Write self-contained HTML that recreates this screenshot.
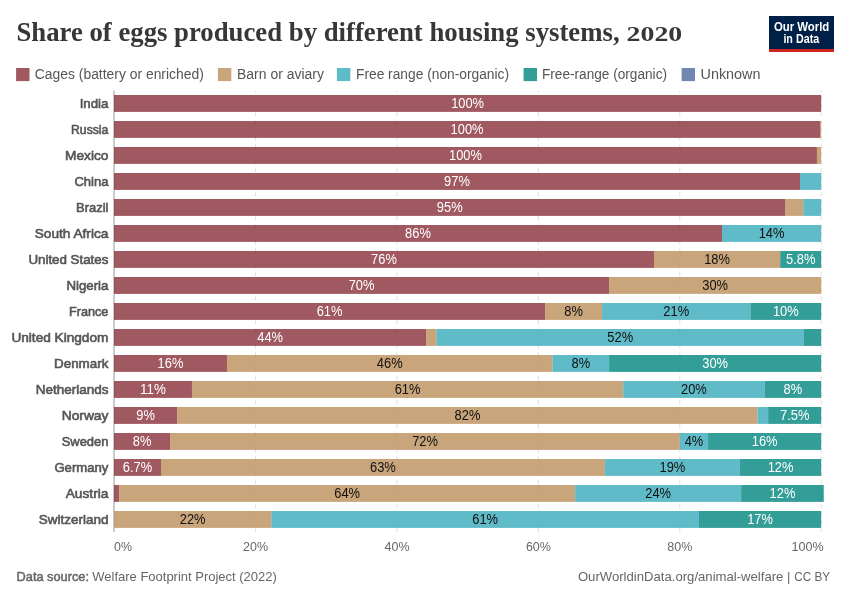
<!DOCTYPE html>
<html><head><meta charset="utf-8"><title>Share of eggs produced by different housing systems, 2020</title>
<style>
html,body{margin:0;padding:0;background:#fff;}
body{width:850px;height:600px;overflow:hidden;font-family:"Liberation Sans",sans-serif;}
svg{display:block;will-change:transform;font-family:"Liberation Sans",sans-serif;}
.t{font-family:"Liberation Serif",serif;font-weight:700;fill:#373737;}
.ent{font-size:13px;font-weight:400;fill:#555;stroke:#555;stroke-width:0.6px;text-anchor:end;}
.val{font-size:14px;text-anchor:middle;}
.tick{font-size:13.2px;fill:#666;}
.leg{font-size:14px;fill:#555;}
.ft{font-size:13px;fill:#666;}
</style></head><body>
<svg width="850" height="600" viewBox="0 0 850 600">
<rect x="0" y="0" width="850" height="600" fill="#fff"/>

<text class="t" x="16.4" y="40.5" font-size="28" textLength="603.2" lengthAdjust="spacingAndGlyphs">Share of eggs produced by different housing systems,</text>
<text class="t" x="626.6" y="40.5" font-size="20.4" textLength="55.7" lengthAdjust="spacingAndGlyphs">2020</text>
<rect x="769" y="16" width="65" height="36" fill="#002147"/>
<rect x="769" y="49" width="65" height="3" fill="#CE261E"/>
<text x="801.6" y="30.8" font-size="12" font-weight="700" fill="#fff" text-anchor="middle" textLength="55.4" lengthAdjust="spacingAndGlyphs">Our World</text>
<text x="801.3" y="42.7" font-size="12" font-weight="700" fill="#fff" text-anchor="middle" textLength="35.8" lengthAdjust="spacingAndGlyphs">in Data</text>
<rect x="16.1" y="68" width="13.4" height="13.1" fill="#883039" opacity="0.8"/>
<text class="leg" x="34.8" y="79.2" textLength="169.0" lengthAdjust="spacingAndGlyphs">Cages (battery or enriched)</text>
<rect x="217.9" y="68" width="13.4" height="13.1" fill="#BC8E5A" opacity="0.8"/>
<text class="leg" x="237" y="79.2" textLength="87" lengthAdjust="spacingAndGlyphs">Barn or aviary</text>
<rect x="336.9" y="68" width="13.4" height="13.1" fill="#38AABA" opacity="0.8"/>
<text class="leg" x="356" y="79.2" textLength="153" lengthAdjust="spacingAndGlyphs">Free range (non-organic)</text>
<rect x="523.6" y="68" width="13.4" height="13.1" fill="#00847E" opacity="0.8"/>
<text class="leg" x="542" y="79.2" textLength="125" lengthAdjust="spacingAndGlyphs">Free-range (organic)</text>
<rect x="681.6" y="68" width="13.4" height="13.1" fill="#4C6A9C" opacity="0.8"/>
<text class="leg" x="700.5" y="79.2" textLength="60" lengthAdjust="spacingAndGlyphs">Unknown</text>
<line x1="255.60" y1="90.4" x2="255.60" y2="532.4" stroke="#ddd" stroke-width="1" stroke-dasharray="4,4" stroke-dashoffset="2"/>
<line x1="397.00" y1="90.4" x2="397.00" y2="532.4" stroke="#ddd" stroke-width="1" stroke-dasharray="4,4" stroke-dashoffset="2"/>
<line x1="538.40" y1="90.4" x2="538.40" y2="532.4" stroke="#ddd" stroke-width="1" stroke-dasharray="4,4" stroke-dashoffset="2"/>
<line x1="679.80" y1="90.4" x2="679.80" y2="532.4" stroke="#ddd" stroke-width="1" stroke-dasharray="4,4" stroke-dashoffset="2"/>
<line x1="821.20" y1="90.4" x2="821.20" y2="532.4" stroke="#ddd" stroke-width="1" stroke-dasharray="4,4" stroke-dashoffset="2"/>
<line x1="114" y1="90.5" x2="114" y2="532" stroke="#999" stroke-width="1"/>
<rect x="114.00" y="95.00" width="707.20" height="16.9" fill="#883039" opacity="0.8"/>
<text class="val" x="467.60" y="107.75" fill="#fff" textLength="32.9" lengthAdjust="spacingAndGlyphs">100%</text>
<text class="ent" x="108.4" y="108.20" textLength="28.7" lengthAdjust="spacingAndGlyphs">India</text>
<rect x="114.00" y="121.00" width="706.07" height="16.9" fill="#883039" opacity="0.8"/>
<rect x="820.07" y="121.00" width="1.13" height="16.9" fill="#BC8E5A" opacity="0.8"/>
<text class="val" x="467.03" y="133.75" fill="#fff" textLength="32.9" lengthAdjust="spacingAndGlyphs">100%</text>
<text class="ent" x="108.4" y="134.20" textLength="37.4" lengthAdjust="spacingAndGlyphs">Russia</text>
<rect x="114.00" y="147.00" width="702.96" height="16.9" fill="#883039" opacity="0.8"/>
<rect x="816.96" y="147.00" width="4.24" height="16.9" fill="#BC8E5A" opacity="0.8"/>
<text class="val" x="465.48" y="159.75" fill="#fff" textLength="32.9" lengthAdjust="spacingAndGlyphs">100%</text>
<text class="ent" x="108.4" y="160.20" textLength="43.4" lengthAdjust="spacingAndGlyphs">Mexico</text>
<rect x="114.00" y="173.00" width="685.99" height="16.9" fill="#883039" opacity="0.8"/>
<rect x="799.99" y="173.00" width="21.21" height="16.9" fill="#38AABA" opacity="0.8"/>
<text class="val" x="457.00" y="185.75" fill="#fff" textLength="25.8" lengthAdjust="spacingAndGlyphs">97%</text>
<text class="ent" x="108.4" y="186.20" textLength="34.0" lengthAdjust="spacingAndGlyphs">China</text>
<rect x="114.00" y="199.00" width="671.50" height="16.9" fill="#883039" opacity="0.8"/>
<rect x="785.50" y="199.00" width="17.82" height="16.9" fill="#BC8E5A" opacity="0.8"/>
<rect x="803.31" y="199.00" width="17.89" height="16.9" fill="#38AABA" opacity="0.8"/>
<text class="val" x="449.75" y="211.75" fill="#fff" textLength="25.8" lengthAdjust="spacingAndGlyphs">95%</text>
<text class="ent" x="108.4" y="212.20" textLength="32.4" lengthAdjust="spacingAndGlyphs">Brazil</text>
<rect x="114.00" y="225.00" width="608.01" height="16.9" fill="#883039" opacity="0.8"/>
<rect x="722.01" y="225.00" width="99.19" height="16.9" fill="#38AABA" opacity="0.8"/>
<text class="val" x="418.00" y="237.75" fill="#fff" textLength="25.8" lengthAdjust="spacingAndGlyphs">86%</text>
<text class="val" x="771.60" y="237.75" fill="#111" textLength="25.8" lengthAdjust="spacingAndGlyphs">14%</text>
<text class="ent" x="108.4" y="238.20" textLength="73.7" lengthAdjust="spacingAndGlyphs">South Africa</text>
<rect x="114.00" y="251.00" width="539.99" height="16.9" fill="#883039" opacity="0.8"/>
<rect x="653.99" y="251.00" width="126.20" height="16.9" fill="#BC8E5A" opacity="0.8"/>
<rect x="780.19" y="251.00" width="41.01" height="16.9" fill="#00847E" opacity="0.8"/>
<text class="val" x="384.00" y="263.75" fill="#fff" textLength="25.8" lengthAdjust="spacingAndGlyphs">76%</text>
<text class="val" x="717.09" y="263.75" fill="#111" textLength="25.8" lengthAdjust="spacingAndGlyphs">18%</text>
<text class="val" x="800.70" y="263.75" fill="#fff" textLength="29.4" lengthAdjust="spacingAndGlyphs">5.8%</text>
<text class="ent" x="108.4" y="264.20" textLength="80.0" lengthAdjust="spacingAndGlyphs">United States</text>
<rect x="114.00" y="277.00" width="495.10" height="16.9" fill="#883039" opacity="0.8"/>
<rect x="609.10" y="277.00" width="212.10" height="16.9" fill="#BC8E5A" opacity="0.8"/>
<text class="val" x="361.55" y="289.75" fill="#fff" textLength="25.8" lengthAdjust="spacingAndGlyphs">70%</text>
<text class="val" x="715.15" y="289.75" fill="#111" textLength="25.8" lengthAdjust="spacingAndGlyphs">30%</text>
<text class="ent" x="108.4" y="290.20" textLength="42.0" lengthAdjust="spacingAndGlyphs">Nigeria</text>
<rect x="114.00" y="303.00" width="431.12" height="16.9" fill="#883039" opacity="0.8"/>
<rect x="545.12" y="303.00" width="56.91" height="16.9" fill="#BC8E5A" opacity="0.8"/>
<rect x="602.03" y="303.00" width="148.47" height="16.9" fill="#38AABA" opacity="0.8"/>
<rect x="750.50" y="303.00" width="70.70" height="16.9" fill="#00847E" opacity="0.8"/>
<text class="val" x="329.56" y="315.75" fill="#fff" textLength="25.8" lengthAdjust="spacingAndGlyphs">61%</text>
<text class="val" x="573.57" y="315.75" fill="#111" textLength="18.6" lengthAdjust="spacingAndGlyphs">8%</text>
<text class="val" x="676.26" y="315.75" fill="#111" textLength="25.8" lengthAdjust="spacingAndGlyphs">21%</text>
<text class="val" x="785.85" y="315.75" fill="#fff" textLength="25.8" lengthAdjust="spacingAndGlyphs">10%</text>
<text class="ent" x="108.4" y="316.20" textLength="39.4" lengthAdjust="spacingAndGlyphs">France</text>
<rect x="114.00" y="329.00" width="312.34" height="16.9" fill="#883039" opacity="0.8"/>
<rect x="426.34" y="329.00" width="10.25" height="16.9" fill="#BC8E5A" opacity="0.8"/>
<rect x="436.59" y="329.00" width="367.29" height="16.9" fill="#38AABA" opacity="0.8"/>
<rect x="803.88" y="329.00" width="17.32" height="16.9" fill="#00847E" opacity="0.8"/>
<text class="val" x="270.17" y="341.75" fill="#fff" textLength="25.8" lengthAdjust="spacingAndGlyphs">44%</text>
<text class="val" x="620.24" y="341.75" fill="#111" textLength="25.8" lengthAdjust="spacingAndGlyphs">52%</text>
<text class="ent" x="108.4" y="342.20" textLength="97.0" lengthAdjust="spacingAndGlyphs">United Kingdom</text>
<rect x="114.00" y="355.00" width="112.97" height="16.9" fill="#883039" opacity="0.8"/>
<rect x="226.97" y="355.00" width="325.57" height="16.9" fill="#BC8E5A" opacity="0.8"/>
<rect x="552.54" y="355.00" width="56.56" height="16.9" fill="#38AABA" opacity="0.8"/>
<rect x="609.10" y="355.00" width="212.10" height="16.9" fill="#00847E" opacity="0.8"/>
<text class="val" x="170.48" y="367.75" fill="#fff" textLength="25.8" lengthAdjust="spacingAndGlyphs">16%</text>
<text class="val" x="389.75" y="367.75" fill="#111" textLength="25.8" lengthAdjust="spacingAndGlyphs">46%</text>
<text class="val" x="580.82" y="367.75" fill="#111" textLength="18.6" lengthAdjust="spacingAndGlyphs">8%</text>
<text class="val" x="715.15" y="367.75" fill="#fff" textLength="25.8" lengthAdjust="spacingAndGlyphs">30%</text>
<text class="ent" x="108.4" y="368.20" textLength="54.4" lengthAdjust="spacingAndGlyphs">Denmark</text>
<rect x="114.00" y="381.00" width="77.97" height="16.9" fill="#883039" opacity="0.8"/>
<rect x="191.97" y="381.00" width="431.27" height="16.9" fill="#BC8E5A" opacity="0.8"/>
<rect x="623.24" y="381.00" width="141.40" height="16.9" fill="#38AABA" opacity="0.8"/>
<rect x="764.64" y="381.00" width="56.56" height="16.9" fill="#00847E" opacity="0.8"/>
<text class="val" x="152.99" y="393.75" fill="#fff" textLength="25.8" lengthAdjust="spacingAndGlyphs">11%</text>
<text class="val" x="407.61" y="393.75" fill="#111" textLength="25.8" lengthAdjust="spacingAndGlyphs">61%</text>
<text class="val" x="693.94" y="393.75" fill="#111" textLength="25.8" lengthAdjust="spacingAndGlyphs">20%</text>
<text class="val" x="792.92" y="393.75" fill="#fff" textLength="18.6" lengthAdjust="spacingAndGlyphs">8%</text>
<text class="ent" x="108.4" y="394.20" textLength="72.7" lengthAdjust="spacingAndGlyphs">Netherlands</text>
<rect x="114.00" y="407.00" width="63.34" height="16.9" fill="#883039" opacity="0.8"/>
<rect x="177.34" y="407.00" width="580.23" height="16.9" fill="#BC8E5A" opacity="0.8"/>
<rect x="757.57" y="407.00" width="10.61" height="16.9" fill="#38AABA" opacity="0.8"/>
<rect x="768.18" y="407.00" width="53.02" height="16.9" fill="#00847E" opacity="0.8"/>
<text class="val" x="145.67" y="419.75" fill="#fff" textLength="18.6" lengthAdjust="spacingAndGlyphs">9%</text>
<text class="val" x="467.45" y="419.75" fill="#111" textLength="25.8" lengthAdjust="spacingAndGlyphs">82%</text>
<text class="val" x="794.69" y="419.75" fill="#fff" textLength="29.4" lengthAdjust="spacingAndGlyphs">7.5%</text>
<text class="ent" x="108.4" y="420.20" textLength="46.7" lengthAdjust="spacingAndGlyphs">Norway</text>
<rect x="114.00" y="433.00" width="56.34" height="16.9" fill="#883039" opacity="0.8"/>
<rect x="170.34" y="433.00" width="509.46" height="16.9" fill="#BC8E5A" opacity="0.8"/>
<rect x="679.80" y="433.00" width="28.28" height="16.9" fill="#38AABA" opacity="0.8"/>
<rect x="708.08" y="433.00" width="113.12" height="16.9" fill="#00847E" opacity="0.8"/>
<text class="val" x="142.17" y="445.75" fill="#fff" textLength="18.6" lengthAdjust="spacingAndGlyphs">8%</text>
<text class="val" x="425.07" y="445.75" fill="#111" textLength="25.8" lengthAdjust="spacingAndGlyphs">72%</text>
<text class="val" x="693.94" y="445.75" fill="#111" textLength="18.6" lengthAdjust="spacingAndGlyphs">4%</text>
<text class="val" x="764.64" y="445.75" fill="#fff" textLength="25.8" lengthAdjust="spacingAndGlyphs">16%</text>
<text class="ent" x="108.4" y="446.20" textLength="46.7" lengthAdjust="spacingAndGlyphs">Sweden</text>
<rect x="114.00" y="459.00" width="47.00" height="16.9" fill="#883039" opacity="0.8"/>
<rect x="161.00" y="459.00" width="443.85" height="16.9" fill="#BC8E5A" opacity="0.8"/>
<rect x="604.86" y="459.00" width="135.04" height="16.9" fill="#38AABA" opacity="0.8"/>
<rect x="739.90" y="459.00" width="81.30" height="16.9" fill="#00847E" opacity="0.8"/>
<text class="val" x="137.50" y="471.75" fill="#fff" textLength="29.4" lengthAdjust="spacingAndGlyphs">6.7%</text>
<text class="val" x="382.93" y="471.75" fill="#111" textLength="25.8" lengthAdjust="spacingAndGlyphs">63%</text>
<text class="val" x="672.38" y="471.75" fill="#111" textLength="25.8" lengthAdjust="spacingAndGlyphs">19%</text>
<text class="val" x="780.55" y="471.75" fill="#fff" textLength="25.8" lengthAdjust="spacingAndGlyphs">12%</text>
<text class="ent" x="108.4" y="472.20" textLength="54.0" lengthAdjust="spacingAndGlyphs">Germany</text>
<rect x="114.00" y="485.00" width="5.15" height="16.9" fill="#883039" opacity="0.8"/>
<rect x="119.15" y="485.00" width="456.01" height="16.9" fill="#BC8E5A" opacity="0.8"/>
<rect x="575.16" y="485.00" width="166.00" height="16.9" fill="#38AABA" opacity="0.8"/>
<rect x="741.17" y="485.00" width="82.58" height="16.9" fill="#00847E" opacity="0.8"/>
<text class="val" x="347.16" y="497.75" fill="#111" textLength="25.8" lengthAdjust="spacingAndGlyphs">64%</text>
<text class="val" x="658.17" y="497.75" fill="#111" textLength="25.8" lengthAdjust="spacingAndGlyphs">24%</text>
<text class="val" x="782.46" y="497.75" fill="#fff" textLength="25.8" lengthAdjust="spacingAndGlyphs">12%</text>
<text class="ent" x="108.4" y="498.20" textLength="42.7" lengthAdjust="spacingAndGlyphs">Austria</text>
<rect x="114.00" y="511.00" width="157.37" height="16.9" fill="#BC8E5A" opacity="0.8"/>
<rect x="271.37" y="511.00" width="427.52" height="16.9" fill="#38AABA" opacity="0.8"/>
<rect x="698.89" y="511.00" width="122.31" height="16.9" fill="#00847E" opacity="0.8"/>
<text class="val" x="192.68" y="523.75" fill="#111" textLength="25.8" lengthAdjust="spacingAndGlyphs">22%</text>
<text class="val" x="485.13" y="523.75" fill="#111" textLength="25.8" lengthAdjust="spacingAndGlyphs">61%</text>
<text class="val" x="760.04" y="523.75" fill="#fff" textLength="25.8" lengthAdjust="spacingAndGlyphs">17%</text>
<text class="ent" x="108.4" y="524.20" textLength="69.7" lengthAdjust="spacingAndGlyphs">Switzerland</text>
<text class="tick" x="114.10" y="550.9" text-anchor="start" textLength="17.9" lengthAdjust="spacingAndGlyphs">0%</text>
<text class="tick" x="255.60" y="550.9" text-anchor="middle" textLength="25.0" lengthAdjust="spacingAndGlyphs">20%</text>
<text class="tick" x="397.00" y="550.9" text-anchor="middle" textLength="25.0" lengthAdjust="spacingAndGlyphs">40%</text>
<text class="tick" x="538.40" y="550.9" text-anchor="middle" textLength="25.0" lengthAdjust="spacingAndGlyphs">60%</text>
<text class="tick" x="679.80" y="550.9" text-anchor="middle" textLength="25.0" lengthAdjust="spacingAndGlyphs">80%</text>
<text class="tick" x="823.70" y="550.9" text-anchor="end" textLength="32.2" lengthAdjust="spacingAndGlyphs">100%</text>
<text class="ft" x="16.6" y="581.0" stroke="#666" stroke-width="0.5" textLength="72.4" lengthAdjust="spacingAndGlyphs">Data source:</text>
<text class="ft" x="92.3" y="581.0" textLength="184.5" lengthAdjust="spacingAndGlyphs">Welfare Footprint Project (2022)</text>
<text class="ft" x="577.9" y="581.0" textLength="205.5" lengthAdjust="spacingAndGlyphs">OurWorldinData.org/animal-welfare</text>
<text class="ft" x="787.0" y="581.0">|</text>
<text class="ft" x="794.3" y="581.0" textLength="35.9" lengthAdjust="spacingAndGlyphs">CC BY</text>
</svg></body></html>
